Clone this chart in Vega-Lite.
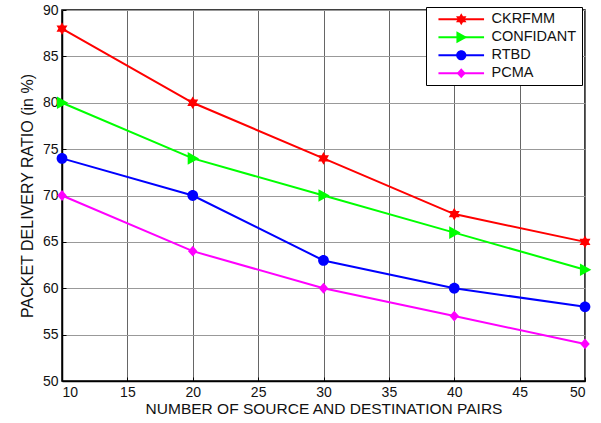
{
  "$schema": "https://vega.github.io/schema/vega-lite/v6.json",
  "width": 523,
  "height": 371,
  "autosize": {"type": "none"},
  "padding": {"left": 62, "top": 10, "right": 16, "bottom": 42},
  "background": "white",
  "config": {
    "font": "Liberation Sans",
    "view": {"stroke": "#000", "strokeWidth": 1.5},
    "axis": {
      "labelFont": "Liberation Sans",
      "labelFontSize": 14,
      "labelColor": "#111",
      "titleFont": "Liberation Sans",
      "titleFontWeight": "normal",
      "titleColor": "#111",
      "domainColor": "#000",
      "domainWidth": 1.5,
      "tickColor": "#000",
      "tickSize": -4,
      "tickWidth": 1
    }
  },
  "data": {
    "values": [
      {"pairs": 10, "protocol": "CKRFMM", "pdr": 88},
      {"pairs": 20, "protocol": "CKRFMM", "pdr": 80},
      {"pairs": 30, "protocol": "CKRFMM", "pdr": 74},
      {"pairs": 40, "protocol": "CKRFMM", "pdr": 68},
      {"pairs": 50, "protocol": "CKRFMM", "pdr": 65},
      {"pairs": 10, "protocol": "CONFIDANT", "pdr": 80},
      {"pairs": 20, "protocol": "CONFIDANT", "pdr": 74},
      {"pairs": 30, "protocol": "CONFIDANT", "pdr": 70},
      {"pairs": 40, "protocol": "CONFIDANT", "pdr": 66},
      {"pairs": 50, "protocol": "CONFIDANT", "pdr": 62},
      {"pairs": 10, "protocol": "RTBD", "pdr": 74},
      {"pairs": 20, "protocol": "RTBD", "pdr": 70},
      {"pairs": 30, "protocol": "RTBD", "pdr": 63},
      {"pairs": 40, "protocol": "RTBD", "pdr": 60},
      {"pairs": 50, "protocol": "RTBD", "pdr": 58},
      {"pairs": 10, "protocol": "PCMA", "pdr": 70},
      {"pairs": 20, "protocol": "PCMA", "pdr": 64},
      {"pairs": 30, "protocol": "PCMA", "pdr": 60},
      {"pairs": 40, "protocol": "PCMA", "pdr": 57},
      {"pairs": 50, "protocol": "PCMA", "pdr": 54}
    ]
  },
  "encoding": {
    "x": {
      "field": "pairs", "type": "quantitative",
      "scale": {"domain": [10, 50], "nice": false, "zero": false},
      "axis": {
        "title": "NUMBER OF SOURCE AND DESTINATION PAIRS",
        "titleFontSize": 15.5,
        "values": [10, 15, 20, 25, 30, 35, 40, 45, 50],
        "grid": true, "gridColor": "#666", "gridWidth": 1,
        "labelPadding": 8, "titlePadding": 2
      }
    },
    "y": {
      "field": "pdr", "type": "quantitative",
      "scale": {"domain": [50, 90], "nice": false, "zero": false},
      "axis": {
        "title": "PACKET DELIVERY RATIO (in %)",
        "titleFontSize": 16,
        "values": [50, 55, 60, 65, 70, 75, 80, 85, 90],
        "grid": true, "gridColor": "#999", "gridWidth": 1,
        "labelPadding": 8, "titlePadding": 7
      }
    }
  },
  "layer": [
    {
      "mark": {"type": "line", "strokeWidth": 2},
      "encoding": {
        "stroke": {
          "field": "protocol", "type": "nominal",
          "scale": {"domain": ["CKRFMM", "CONFIDANT", "RTBD", "PCMA"], "range": ["#ff0000", "#00ff00", "#0000ff", "#ff00ff"]},
          "legend": {
            "title": null,
            "orient": "none",
            "legendX": 364,
            "legendY": -3,
            "zindex": 1,
            "fillColor": "transparent",
            "strokeColor": "transparent",
            "padding": 5,
            "rowPadding": 3,
            "symbolSize": 144,
            "symbolOffset": 23,
            "labelOffset": 23,
            "labelFont": "Liberation Sans",
            "labelFontSize": 14.5,
            "labelExpr": "''",
            "symbolType": "M-3.8,0L3.8,0",
            "symbolStrokeWidth": 2
          }
        }
      }
    },
    {
      "mark": {"type": "point", "filled": true, "size": 160, "opacity": 1},
      "encoding": {
        "color": {
          "field": "protocol", "type": "nominal",
          "sort": null,
          "scale": {"range": ["#ff0000", "#00ff00", "#0000ff", "#ff00ff"]},
          "legend": {
            "title": null,
            "orient": "none",
            "legendX": 364,
            "legendY": -3,
            "zindex": 0,
            "fillColor": "white",
            "strokeColor": "#000",
            "padding": 5,
            "rowPadding": 3,
            "symbolSize": 144,
            "symbolOffset": 23,
            "labelOffset": 23,
            "labelFont": "Liberation Sans",
            "labelFontSize": 14.5,
            "labelColor": "#111"
          }
        },
        "shape": {
          "field": "protocol", "type": "nominal",
          "sort": null,
          "scale": {
            "range": [
              "M0,-1L0.289,-0.5L0.866,-0.5L0.577,0L0.866,0.5L0.289,0.5L0,1L-0.289,0.5L-0.866,0.5L-0.577,0L-0.866,-0.5L-0.289,-0.5Z",
              "M-0.8,-1L1,0L-0.8,1Z",
              "M-0.85,0A0.85,0.85 0 1,0 0.85,0A0.85,0.85 0 1,0 -0.85,0Z",
              "M0,-0.85L0.75,0L0,0.85L-0.75,0Z"
            ]
          },
          "legend": {
            "title": null,
            "orient": "none",
            "legendX": 364,
            "legendY": -3,
            "zindex": 0,
            "fillColor": "white",
            "strokeColor": "#000",
            "padding": 5,
            "rowPadding": 3,
            "symbolSize": 144,
            "symbolOffset": 23,
            "labelOffset": 23,
            "labelFont": "Liberation Sans",
            "labelFontSize": 14.5,
            "labelColor": "#111"
          }
        }
      }
    }
  ]
}
